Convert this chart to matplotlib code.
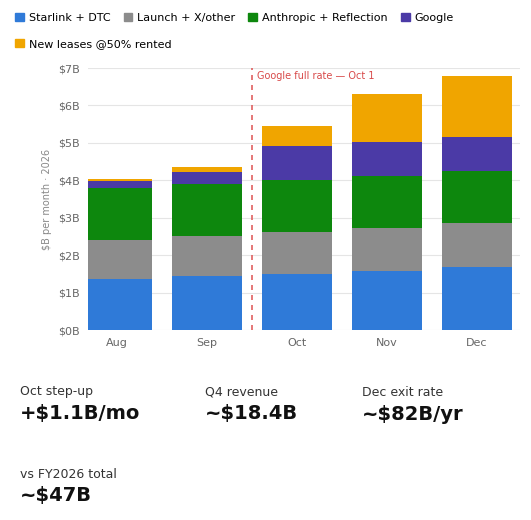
import matplotlib
matplotlib.use("Agg")
import matplotlib.pyplot as plt
from matplotlib.patches import Patch

months = ["Aug", "Sep", "Oct", "Nov", "Dec"]
starlink = [1.36, 1.44, 1.50, 1.58, 1.68]
launch = [1.05, 1.07, 1.12, 1.15, 1.18]
anthropic = [1.39, 1.39, 1.39, 1.39, 1.39]
google = [0.18, 0.32, 0.91, 0.91, 0.91]
leases = [0.06, 0.14, 0.53, 1.28, 1.63]
series = [("Starlink + DTC", starlink, "#2f7ad8"),
          ("Launch + X/other", launch, "#8c8c8c"),
          ("Anthropic + Reflection", anthropic, "#0d870d"),
          ("Google", google, "#4b3aa6"),
          ("New leases @50% rented", leases, "#f0a500")]
yticks = [0, 1, 2, 3, 4, 5, 6, 7]
ytick_labels = ["$0B", "$1B", "$2B", "$3B", "$4B", "$5B", "$6B", "$7B"]
stats = [("Oct step-up", "+$1.1B/mo"), ("Q4 revenue", "~$18.4B"),
         ("Dec exit rate", "~$82B/yr"), ("vs FY2026 total", "~$47B")]

fig = plt.figure(figsize=(5.31, 5.20), dpi=100)
ax = fig.add_axes([88/531, 1-330/520, 432/531, 262/520])
x = list(range(len(months)))
bottom = [0]*len(months)
for name, vals, c in series:
    ax.bar(x, vals, bottom=bottom, width=0.78, color=c, zorder=3)
    bottom = [b+v for b, v in zip(bottom, vals)]
ax.set_ylim(0, 7)
ax.set_xlim(-0.32, 4.48)
ax.set_yticks(yticks)
ax.set_yticklabels(ytick_labels, fontsize=8, color="#666666")
ax.set_xticks(x)
ax.set_xticklabels(months, fontsize=8, color="#666666")
ax.grid(axis="y", color="#e5e5e5", lw=0.8, zorder=0)
for s in ax.spines.values():
    s.set_visible(False)
ax.tick_params(length=0, pad=6)
ax.set_ylabel("$B per month · 2026", fontsize=7, color="#888888")
ax.axvline(1.5, color="#e06060", ls=(0, (3, 3)), lw=1.2, zorder=4)
ax.text(1.56, 6.92, "Google full rate — Oct 1", color="#d84a4a", fontsize=7, va="top")

handles = [Patch(color=c, label=n) for n, _, c in series]
fig.legend(handles=handles[:4], loc="upper left", bbox_to_anchor=(0.01, 0.995), ncol=4,
           frameon=False, fontsize=8, handlelength=0.8, handleheight=0.8,
           columnspacing=1.2, handletextpad=0.4)
fig.legend(handles=handles[4:], loc="upper left", bbox_to_anchor=(0.01, 0.945), ncol=1,
           frameon=False, fontsize=8, handlelength=0.8, handleheight=0.8,
           handletextpad=0.4)

pos = [(20, 392), (205, 392), (362, 392), (20, 474)]
for (lab, val), (px, py) in zip(stats, pos):
    fig.text(px/531, 1-py/520, lab, fontsize=9, color="#333333", va="center")
    fig.text(px/531, 1-(py+22)/520, val, fontsize=14, color="#111111", va="center",
             fontweight="semibold")

fig.savefig("out.png", dpi=100, facecolor="white")
